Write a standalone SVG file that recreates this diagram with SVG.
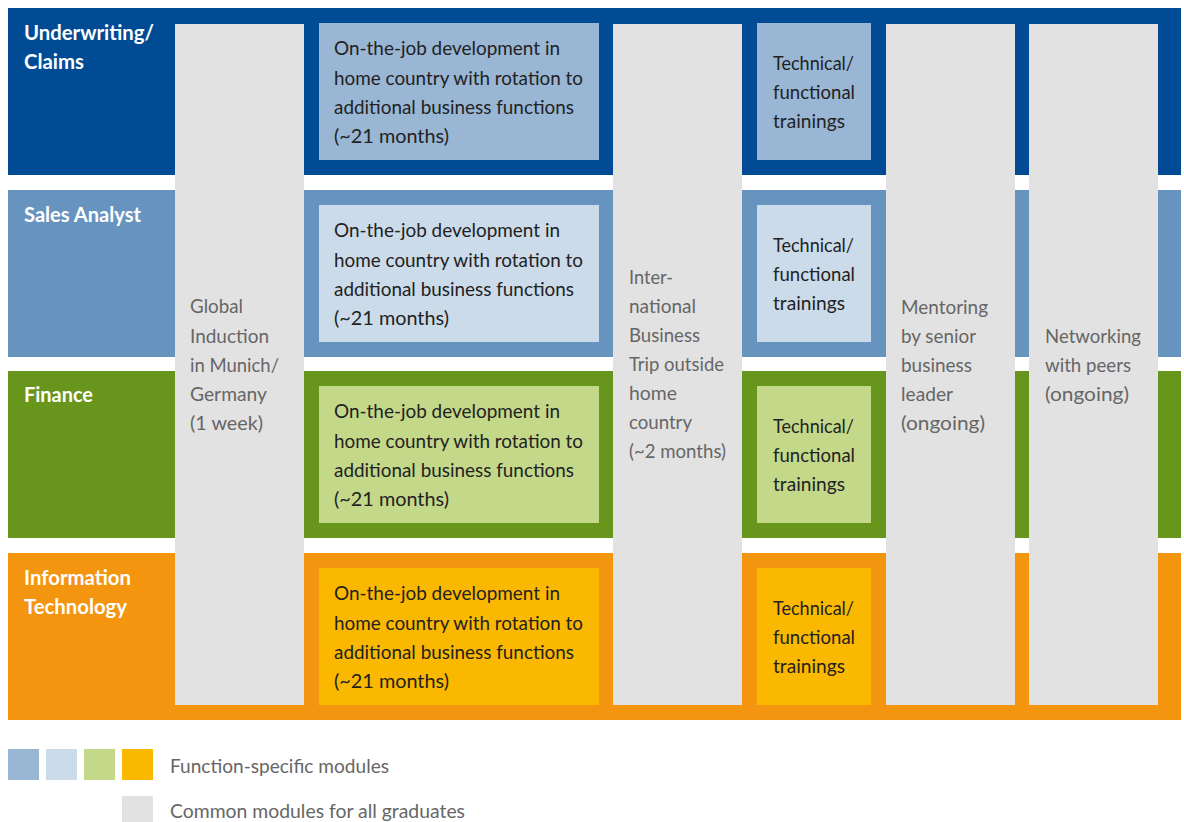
<svg xmlns="http://www.w3.org/2000/svg" width="1184" height="822" viewBox="0 0 1184 822">
<style>
.lbl{font-family:Lato,"Open Sans",sans-serif;font-weight:bold;font-size:20px;fill:#ffffff}
.box{font-family:Lato,"Open Sans",sans-serif;font-size:20px;fill:#222222}
.com{font-family:Lato,"Open Sans",sans-serif;font-size:20px;fill:#666666}
.grey{fill:#e2e2e2}
</style>
<rect width="1184" height="822" fill="#ffffff"/>
<g id="band-underwriting">
<rect x="8" y="8" width="1173" height="167" fill="#004b93"/>
</g>
<g id="band-sales">
<rect x="8" y="190" width="1173" height="167" fill="#6793bf"/>
</g>
<g id="band-finance">
<rect x="8" y="371" width="1173" height="167" fill="#68961d"/>
</g>
<g id="band-it">
<rect x="8" y="553" width="1173" height="167" fill="#f3950e"/>
</g>
<g id="col-global">
<rect class="grey" x="175" y="24" width="129" height="681"/>
<text class="com" x="190" y="313" textLength="53" lengthAdjust="spacingAndGlyphs">Global</text>
<text class="com" x="190" y="343" textLength="79" lengthAdjust="spacingAndGlyphs">Induction</text>
<text class="com" x="190" y="372" textLength="89" lengthAdjust="spacingAndGlyphs">in Munich/</text>
<text class="com" x="190" y="401" textLength="77" lengthAdjust="spacingAndGlyphs">Germany</text>
<text class="com" x="190" y="430" textLength="73" lengthAdjust="spacingAndGlyphs">(1 week)</text>
</g>
<g id="col-trip">
<rect class="grey" x="613" y="24" width="129" height="681"/>
<text class="com" x="629" y="284" textLength="44" lengthAdjust="spacingAndGlyphs">Inter-</text>
<text class="com" x="629" y="313" textLength="67" lengthAdjust="spacingAndGlyphs">national</text>
<text class="com" x="629" y="342" textLength="71" lengthAdjust="spacingAndGlyphs">Business</text>
<text class="com" x="629" y="371" textLength="95" lengthAdjust="spacingAndGlyphs">Trip outside</text>
<text class="com" x="629" y="400" textLength="48" lengthAdjust="spacingAndGlyphs">home</text>
<text class="com" x="629" y="429" textLength="63" lengthAdjust="spacingAndGlyphs">country</text>
<text class="com" x="629" y="458" textLength="97" lengthAdjust="spacingAndGlyphs">(~2 months)</text>
</g>
<g id="col-mentoring">
<rect class="grey" x="886" y="24" width="129" height="681"/>
<text class="com" x="901" y="314" textLength="87" lengthAdjust="spacingAndGlyphs">Mentoring</text>
<text class="com" x="901" y="343" textLength="75" lengthAdjust="spacingAndGlyphs">by senior</text>
<text class="com" x="901" y="372" textLength="71" lengthAdjust="spacingAndGlyphs">business</text>
<text class="com" x="901" y="401" textLength="52" lengthAdjust="spacingAndGlyphs">leader</text>
<text class="com" x="901" y="430" textLength="84" lengthAdjust="spacingAndGlyphs">(ongoing)</text>
</g>
<g id="col-networking">
<rect class="grey" x="1029" y="24" width="129" height="681"/>
<text class="com" x="1045" y="343" textLength="96" lengthAdjust="spacingAndGlyphs">Networking</text>
<text class="com" x="1045" y="372" textLength="86" lengthAdjust="spacingAndGlyphs">with peers</text>
<text class="com" x="1045" y="401" textLength="84" lengthAdjust="spacingAndGlyphs">(ongoing)</text>
</g>
<g id="label-underwriting">
<text class="lbl" x="24" y="40" textLength="130" lengthAdjust="spacingAndGlyphs">Underwriting/</text>
<text class="lbl" x="24" y="69" textLength="60" lengthAdjust="spacingAndGlyphs">Claims</text>
</g>
<g id="label-sales">
<text class="lbl" x="24" y="222" textLength="117" lengthAdjust="spacingAndGlyphs">Sales Analyst</text>
</g>
<g id="label-finance">
<text class="lbl" x="24" y="402" textLength="69" lengthAdjust="spacingAndGlyphs">Finance</text>
</g>
<g id="label-it">
<text class="lbl" x="24" y="585" textLength="107" lengthAdjust="spacingAndGlyphs">Information</text>
<text class="lbl" x="24" y="614" textLength="103" lengthAdjust="spacingAndGlyphs">Technology</text>
</g>
<g id="ojt-underwriting">
<rect x="319" y="23" width="280" height="137" fill="#99b6d5"/>
<text class="box" x="334" y="55" textLength="226" lengthAdjust="spacingAndGlyphs">On-the-job development in</text>
<text class="box" x="334" y="85" textLength="249" lengthAdjust="spacingAndGlyphs">home country with rotation to</text>
<text class="box" x="334" y="114" textLength="240" lengthAdjust="spacingAndGlyphs">additional business functions</text>
<text class="box" x="334" y="143" textLength="115" lengthAdjust="spacingAndGlyphs">(~21 months)</text>
</g>
<g id="ojt-sales">
<rect x="319" y="205" width="280" height="137" fill="#cbdbea"/>
<text class="box" x="334" y="237" textLength="226" lengthAdjust="spacingAndGlyphs">On-the-job development in</text>
<text class="box" x="334" y="267" textLength="249" lengthAdjust="spacingAndGlyphs">home country with rotation to</text>
<text class="box" x="334" y="296" textLength="240" lengthAdjust="spacingAndGlyphs">additional business functions</text>
<text class="box" x="334" y="325" textLength="115" lengthAdjust="spacingAndGlyphs">(~21 months)</text>
</g>
<g id="ojt-finance">
<rect x="319" y="386" width="280" height="137" fill="#c4d88a"/>
<text class="box" x="334" y="418" textLength="226" lengthAdjust="spacingAndGlyphs">On-the-job development in</text>
<text class="box" x="334" y="448" textLength="249" lengthAdjust="spacingAndGlyphs">home country with rotation to</text>
<text class="box" x="334" y="477" textLength="240" lengthAdjust="spacingAndGlyphs">additional business functions</text>
<text class="box" x="334" y="506" textLength="115" lengthAdjust="spacingAndGlyphs">(~21 months)</text>
</g>
<g id="ojt-it">
<rect x="319" y="568" width="280" height="137" fill="#fbb800"/>
<text class="box" x="334" y="600" textLength="226" lengthAdjust="spacingAndGlyphs">On-the-job development in</text>
<text class="box" x="334" y="630" textLength="249" lengthAdjust="spacingAndGlyphs">home country with rotation to</text>
<text class="box" x="334" y="659" textLength="240" lengthAdjust="spacingAndGlyphs">additional business functions</text>
<text class="box" x="334" y="688" textLength="115" lengthAdjust="spacingAndGlyphs">(~21 months)</text>
</g>
<g id="tech-underwriting">
<rect x="757" y="23" width="114" height="137" fill="#99b6d5"/>
<text class="box" x="773" y="70" textLength="81" lengthAdjust="spacingAndGlyphs">Technical/</text>
<text class="box" x="773" y="99" textLength="82" lengthAdjust="spacingAndGlyphs">functional</text>
<text class="box" x="773" y="128" textLength="72" lengthAdjust="spacingAndGlyphs">trainings</text>
</g>
<g id="tech-sales">
<rect x="757" y="205" width="114" height="137" fill="#cbdbea"/>
<text class="box" x="773" y="252" textLength="81" lengthAdjust="spacingAndGlyphs">Technical/</text>
<text class="box" x="773" y="281" textLength="82" lengthAdjust="spacingAndGlyphs">functional</text>
<text class="box" x="773" y="310" textLength="72" lengthAdjust="spacingAndGlyphs">trainings</text>
</g>
<g id="tech-finance">
<rect x="757" y="386" width="114" height="137" fill="#c4d88a"/>
<text class="box" x="773" y="433" textLength="81" lengthAdjust="spacingAndGlyphs">Technical/</text>
<text class="box" x="773" y="462" textLength="82" lengthAdjust="spacingAndGlyphs">functional</text>
<text class="box" x="773" y="491" textLength="72" lengthAdjust="spacingAndGlyphs">trainings</text>
</g>
<g id="tech-it">
<rect x="757" y="568" width="114" height="137" fill="#fbb800"/>
<text class="box" x="773" y="615" textLength="81" lengthAdjust="spacingAndGlyphs">Technical/</text>
<text class="box" x="773" y="644" textLength="82" lengthAdjust="spacingAndGlyphs">functional</text>
<text class="box" x="773" y="673" textLength="72" lengthAdjust="spacingAndGlyphs">trainings</text>
</g>
<g id="legend">
<rect x="8" y="749" width="31" height="31" fill="#99b6d5"/>
<rect x="46" y="749" width="31" height="31" fill="#cbdbea"/>
<rect x="84" y="749" width="31" height="31" fill="#c4d88a"/>
<rect x="122" y="749" width="31" height="31" fill="#fbb800"/>
<text class="com" x="170" y="773" textLength="219" lengthAdjust="spacingAndGlyphs">Function-specific modules</text>
<rect class="grey" x="122" y="796" width="31" height="31"/>
<text class="com" x="170" y="818" textLength="295" lengthAdjust="spacingAndGlyphs">Common modules for all graduates</text>
</g>
</svg>
